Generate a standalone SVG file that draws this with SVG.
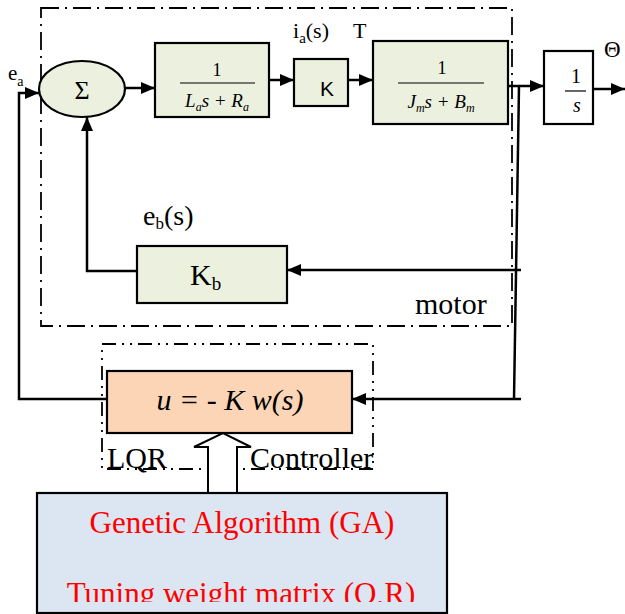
<svg xmlns="http://www.w3.org/2000/svg" width="625" height="614" viewBox="0 0 625 614">
<style>
  .blk{stroke:#000;stroke-width:2.2}
  .green{fill:#EBF1DE}
  .w{stroke:#000;stroke-width:2.5;fill:none}
  .frac{stroke:#000;stroke-width:1.2}
  .dd{fill:none;stroke:#000;stroke-width:1.8}
  text{font-family:'Liberation Serif','Times New Roman','DejaVu Serif',serif}
  text.sans{font-family:'Liberation Sans',Arial,sans-serif}
</style>
<defs>
  <marker id="arr" viewBox="0 0 14 12" refX="14" refY="6" markerWidth="14" markerHeight="12" orient="auto" markerUnits="userSpaceOnUse">
    <path d="M0,0 L14,6 L0,12 z" fill="#000"/>
  </marker>
  <clipPath id="cut"><rect x="0" y="0" width="625" height="602"/></clipPath>
</defs>
<rect width="625" height="614" fill="#fff"/>

<g fill="#000">

<g id="motor-boundary">
  <rect x="41" y="8" width="471" height="318" class="dd" stroke-dasharray="18 6 2 6"/>
  <text x="415" y="314" font-size="30">motor</text>
</g>
<g id="lqr-boundary">
  <rect x="102" y="344" width="271" height="125" class="dd" stroke-dasharray="14 6 2 6 2 6"/>
  <text x="107" y="468" font-size="30">LQR</text>
  <text x="250" y="468" font-size="30">Controller</text>
</g>

<g id="connectors">
  <polyline points="107,399 19,399 19,93 39,93" class="w" marker-end="url(#arr)"/>
  <line x1="125" y1="88" x2="155" y2="88" class="w" marker-end="url(#arr)"/>
  <line x1="269" y1="80" x2="294" y2="80" class="w" marker-end="url(#arr)"/>
  <line x1="348" y1="80" x2="373" y2="80" class="w" marker-end="url(#arr)"/>
  <line x1="508" y1="86" x2="544" y2="86" class="w" marker-end="url(#arr)"/>
  <line x1="593" y1="89" x2="625" y2="89" class="w" marker-end="url(#arr)"/>
  <line x1="519" y1="86" x2="514" y2="399" class="w"/>
  <line x1="521" y1="270" x2="287" y2="270" class="w" marker-end="url(#arr)"/>
  <polyline points="137,271 87,271 87,117" class="w" marker-end="url(#arr)"/>
  <line x1="521" y1="399" x2="352" y2="399" class="w" marker-end="url(#arr)"/>
  <polygon points="208,493 208,447 194,447 223,433 251,447 237,447 237,493" fill="#fff" stroke="#000" stroke-width="2"/>
</g>

<g id="ea-label">
  <text x="8" y="80" font-size="21">e<tspan font-size="14" dy="6">a</tspan></text>
</g>

<g id="sum">
  <ellipse cx="82" cy="89" rx="43" ry="28" class="blk green"/>
  <text x="82" y="99" font-size="26" text-anchor="middle">Σ</text>
</g>

<g id="armature">
  <rect x="155" y="43" width="114" height="74" class="blk green"/>
  <text x="217" y="76" font-size="18" text-anchor="middle">1</text>
  <line x1="180" y1="83" x2="255" y2="83" class="frac"/>
  <text x="217" y="107" font-style="italic" font-size="19" text-anchor="middle">L<tspan font-size="12" dy="4">a</tspan><tspan dy="-4">s + R</tspan><tspan font-size="12" dy="4">a</tspan></text>
</g>

<g id="ia-label">
  <text x="293" y="38" font-size="22">i<tspan font-size="15" dy="5">a</tspan><tspan dy="-5">(s)</tspan></text>
  <text x="353" y="38" font-size="22">T</text>
</g>

<g id="gainK">
  <rect x="294" y="59" width="54" height="47" class="blk green"/>
  <text x="327" y="96" class="sans" font-size="21" text-anchor="middle">K</text>
</g>

<g id="mechanical">
  <rect x="373" y="41" width="135" height="83" class="blk green"/>
  <text x="442" y="74" font-size="18" text-anchor="middle">1</text>
  <line x1="398" y1="83" x2="484" y2="83" class="frac"/>
  <text x="441" y="108" font-style="italic" font-size="19" text-anchor="middle">J<tspan font-size="12" dy="4">m</tspan><tspan dy="-4">s + B</tspan><tspan font-size="12" dy="4">m</tspan></text>
</g>

<g id="integrator">
  <rect x="544" y="51" width="49" height="73" fill="#fff" class="blk"/>
  <text x="576" y="83" font-size="20" text-anchor="middle">1</text>
  <line x1="565" y1="91" x2="586" y2="91" class="frac"/>
  <text x="577" y="112" font-style="italic" font-size="20" text-anchor="middle">s</text>
</g>

<g id="theta-label">
  <text x="604" y="57" font-size="23">Θ</text>
</g>

<g id="eb-label">
  <text x="143" y="225" font-size="28">e<tspan font-size="17" dy="4">b</tspan><tspan dy="-4">(s)</tspan></text>
</g>

<g id="backemf">
  <rect x="137" y="246" width="150" height="57" class="blk green"/>
  <text x="190" y="285" font-size="30">K<tspan font-size="19" dy="5">b</tspan></text>
</g>

<g id="controller">
  <rect x="107" y="371" width="245" height="62" fill="#FBD5B5" class="blk"/>
  <text x="230" y="410" font-style="italic" font-size="30" text-anchor="middle">u = - K w(s)</text>
</g>

<g id="ga">
  <rect x="37" y="493" width="410" height="120" fill="#DCE6F2" class="blk"/>
  <text x="242" y="533" fill="#FF0000" font-size="31" text-anchor="middle">Genetic Algorithm (GA)</text>
  <text x="241" y="604" fill="#FF0000" font-size="31" text-anchor="middle" clip-path="url(#cut)">Tuning weight matrix (Q,R)</text>
</g>

</g>
</svg>
